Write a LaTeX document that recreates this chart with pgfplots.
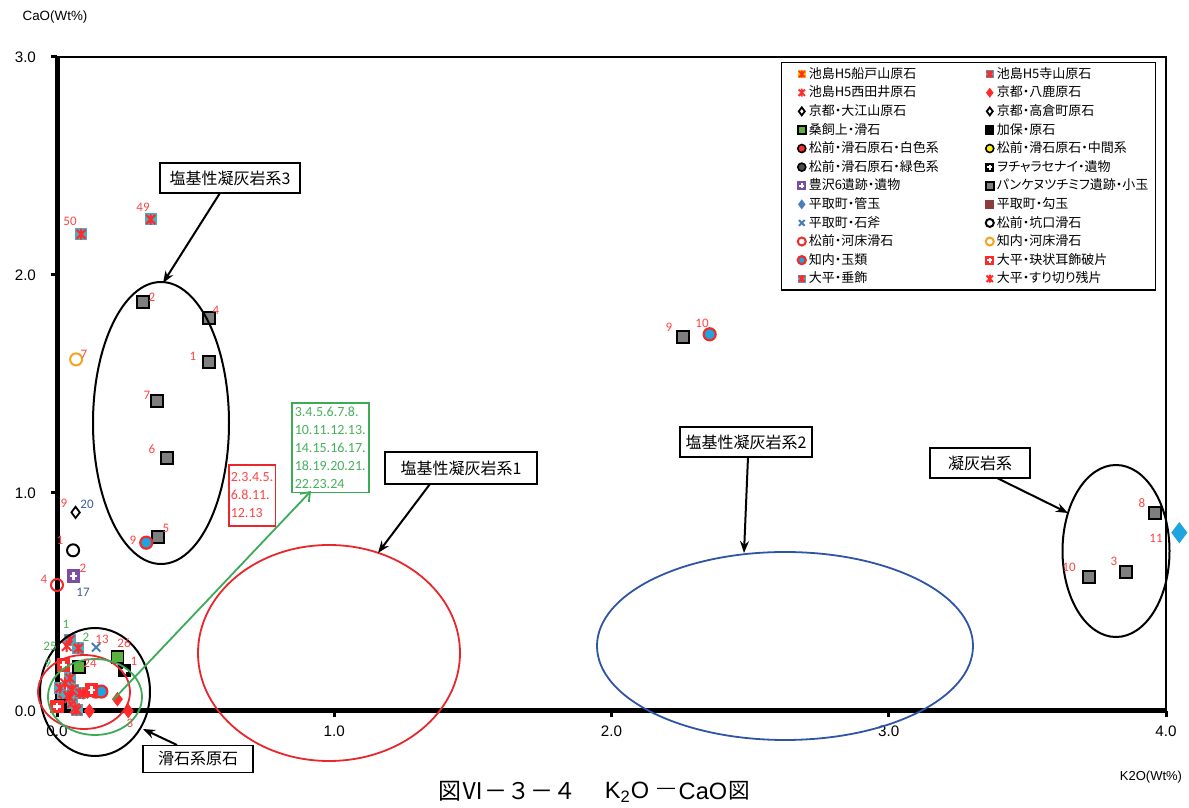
\documentclass[border=0pt]{standalone}
\usepackage{fontspec}
\setmainfont{Liberation Sans}
\newfontfamily\jp{Noto Sans CJK JP}
\newfontfamily\jpp[RawFeature=+palt]{Noto Sans CJK JP}
\newfontfamily\calfont{Carlito}
\usepackage{pgfplots}
\pgfplotsset{compat=1.18}
\usetikzlibrary{arrows.meta}

\definecolor{cyanSq}{HTML}{4BACC6}
\definecolor{redX}{HTML}{FF2A2A}
\definecolor{cyanPt}{HTML}{1EA5E0}
\definecolor{greySq}{HTML}{7F7F7F}
\definecolor{greenSq}{HTML}{5CB040}
\definecolor{purpleSq}{HTML}{7A4FA3}
\definecolor{brownSq}{HTML}{8C3B3B}
\definecolor{blueX}{HTML}{4A7EBB}
\definecolor{orangeO}{HTML}{F6A31F}
\definecolor{redO}{HTML}{EE2C2C}
\definecolor{yellowSq}{HTML}{FFC000}
\definecolor{labRed}{HTML}{FF4545}
\definecolor{labGreen}{HTML}{45B05A}
\definecolor{labBlue}{HTML}{3B5E9E}
\definecolor{ellRed}{HTML}{E8262B}
\definecolor{ellBlue}{HTML}{2F54A6}
\definecolor{ellGreen}{HTML}{3DAA58}

% filled square with an asterisk (x + vertical bar) on top
\pgfdeclareplotmark{sqast}{%
  \pgfpathrectangle{\pgfpoint{-\pgfplotmarksize}{-\pgfplotmarksize}}{\pgfpoint{2\pgfplotmarksize}{2\pgfplotmarksize}}%
  \pgfusepathqfill
  \pgfpathmoveto{\pgfpoint{-.75\pgfplotmarksize}{-.75\pgfplotmarksize}}\pgfpathlineto{\pgfpoint{.75\pgfplotmarksize}{.75\pgfplotmarksize}}%
  \pgfpathmoveto{\pgfpoint{-.75\pgfplotmarksize}{.75\pgfplotmarksize}}\pgfpathlineto{\pgfpoint{.75\pgfplotmarksize}{-.75\pgfplotmarksize}}%
  \pgfpathmoveto{\pgfpoint{0pt}{-.9\pgfplotmarksize}}\pgfpathlineto{\pgfpoint{0pt}{.9\pgfplotmarksize}}%
  \pgfusepathqstroke}
% asterisk only
\pgfdeclareplotmark{xast}{%
  \pgfpathmoveto{\pgfpoint{-.8\pgfplotmarksize}{-.8\pgfplotmarksize}}\pgfpathlineto{\pgfpoint{.8\pgfplotmarksize}{.8\pgfplotmarksize}}%
  \pgfpathmoveto{\pgfpoint{-.8\pgfplotmarksize}{.8\pgfplotmarksize}}\pgfpathlineto{\pgfpoint{.8\pgfplotmarksize}{-.8\pgfplotmarksize}}%
  \pgfpathmoveto{\pgfpoint{0pt}{-\pgfplotmarksize}}\pgfpathlineto{\pgfpoint{0pt}{\pgfplotmarksize}}%
  \pgfusepathqstroke}
% filled square with a white plus
\pgfdeclareplotmark{sqplus}{%
  \pgfpathrectangle{\pgfpoint{-\pgfplotmarksize}{-\pgfplotmarksize}}{\pgfpoint{2\pgfplotmarksize}{2\pgfplotmarksize}}%
  \pgfusepathqfillstroke
  \begin{pgfscope}
  \pgfsetstrokecolor{white}\pgfsetlinewidth{0.45\pgfplotmarksize}%
  \pgfpathmoveto{\pgfpoint{-.6\pgfplotmarksize}{0pt}}\pgfpathlineto{\pgfpoint{.6\pgfplotmarksize}{0pt}}%
  \pgfpathmoveto{\pgfpoint{0pt}{-.6\pgfplotmarksize}}\pgfpathlineto{\pgfpoint{0pt}{.6\pgfplotmarksize}}%
  \pgfusepathqstroke
  \end{pgfscope}}

\begin{document}
\begin{tikzpicture}
\path[use as bounding box] (-28.5pt,-48.5pt) rectangle (566pt,355.5pt);
\begin{axis}[
  at={(0,0)}, anchor=south west,
  scale only axis, width=554.5pt, height=327pt,
  xmin=0, xmax=4, ymin=0, ymax=3,
  xtick={0,1,2,3,4}, ytick={0,1,2,3},
  xtick pos=bottom, ytick pos=left,
  tick align=outside, major tick length=3pt,
  tick style={black, line width=1.5pt},
  axis line style={black, line width=1pt},
  /pgf/number format/.cd, fixed, fixed zerofill, precision=1, assume math mode=true,
  /pgfplots/.cd,
  ticklabel style={font=\fontsize{7.6}{9}\selectfont},
  yticklabel style={xshift=-4pt},
  xticklabel style={yshift=-1pt},
  clip=false,
  legend columns=2,
  legend cell align=left,
  legend image code/.code={\draw[#1] plot coordinates {(0.08cm,0cm)};},
  legend image post style={mark size=2pt},
  legend style={at={(rel axis cs:0.653,0.992)}, anchor=north west,
    draw=black, line width=0.6pt, fill=white,
    font=\jpp\fontsize{6.5}{7.5}\selectfont,
    inner xsep=8pt, inner ysep=1pt, row sep=0pt,
    nodes={text width=70pt, inner xsep=1.5pt, inner ysep=0.6pt, text height=6.1pt, text depth=2pt},
    /tikz/every even column/.append style={column sep=17pt}},
]
% thick left and bottom axis lines
\draw[line width=2.5pt] (rel axis cs:0,1) -- (rel axis cs:0,0) -- (rel axis cs:1,0);

\addlegendimage{only marks, mark=sqast, mark options={fill=yellowSq, draw=redX, line width=0.8pt}}
\addlegendentry{池島H5船戸山原石}
\addplot[only marks, mark=sqast, mark size=3pt, mark options={fill=cyanSq, draw=redX, line width=1pt}] coordinates {
  (0.047,0.326) (0.077,0.288) (0.047,0.150) (0.011,0.105) (0.059,0.096)
  (0.083,0.081) (0.023,0.050) (0.053,0.035) (0.071,0.003) (0.040,0.070)
};
\addlegendentry{池島H5寺山原石}
\addlegendimage{only marks, mark=xast, mark options={draw=redX, line width=0.9pt}}
\addlegendentry{池島H5西田井原石}
\addplot[only marks, mark=diamond*, mark size=3.3pt, mark options={fill=redX, draw=redX}] coordinates {
  (0.218,0.054) (0.117,0.0) (0.257,0.0)
};
\addlegendentry{京都・八鹿原石}
\addlegendimage{only marks, mark=diamond, mark options={draw=black, line width=0.9pt}}
\addlegendentry{京都・大江山原石}
\addplot[only marks, mark=diamond, mark size=2.8pt, mark options={draw=black, line width=0.9pt}] coordinates {
  (0.067,0.911)
};
\addlegendentry{京都・高倉町原石}
\addplot[only marks, mark=square*, mark size=3pt, mark options={fill=greenSq, draw=black, line width=0.9pt}] coordinates {
  (0.218,0.249) (0.079,0.200)
};
\addlegendentry{桑飼上・滑石}
\addplot[only marks, mark=square*, mark size=3pt, mark options={fill=black, draw=black}] coordinates {
  (0.012,0.025)
};
\addlegendentry{加保・原石}
\addlegendimage{only marks, mark=*, mark options={fill=redX, draw=black, line width=0.8pt}}
\addlegendentry{松前・滑石原石・白色系}
\addlegendimage{only marks, mark=*, mark options={fill=yellow, draw=black, line width=0.8pt}}
\addlegendentry{松前・滑石原石・中間系}
\addlegendimage{only marks, mark=*, mark options={fill=black!70, draw=black, line width=0.8pt}}
\addlegendentry{松前・滑石原石・緑色系}
\addplot[only marks, mark=sqplus, mark size=3pt, mark options={fill=black, draw=black, line width=0.6pt}] coordinates {
  (0.243,0.187)
};
\addlegendentry{ヲチャラセナイ・遺物}
\addplot[only marks, mark=sqplus, mark size=3pt, mark options={fill=purpleSq, draw=purpleSq, line width=0.6pt}] coordinates {
  (0.059,0.619)
};
\addlegendentry{豊沢6遺跡・遺物}
\addplot[only marks, mark=square*, mark size=3pt, mark options={fill=greySq, draw=black, line width=1pt}] coordinates {
  (0.311,1.875) (0.548,1.801) (0.548,1.600) (0.361,1.422) (0.397,1.162)
  (0.365,0.798) (2.258,1.717) (3.959,0.910) (3.857,0.639) (3.722,0.616)
};
\addlegendentry{パンケヌツチミフ遺跡・小玉}
\addlegendimage{only marks, mark=diamond*, mark options={fill=blueX, draw=blueX}}
\addlegendentry{平取町・管玉}
\addplot[only marks, forget plot, mark=diamond*, mark size=5pt, mark options={fill=cyanPt, draw=cyanPt}] coordinates {
  (4.048,0.818)
};
\addlegendimage{only marks, mark=square*, mark options={fill=brownSq, draw=brownSq}}
\addlegendentry{平取町・勾玉}
\addplot[only marks, mark=x, mark size=3pt, mark options={draw=blueX, line width=1pt}] coordinates {
  (0.141,0.292)
};
\addlegendentry{平取町・石斧}
\addplot[only marks, mark=o, mark size=3pt, mark options={draw=black, line width=1pt}] coordinates {
  (0.058,0.737)
};
\addlegendentry{松前・坑口滑石}
\addplot[only marks, mark=o, mark size=3pt, mark options={draw=redO, line width=1pt}] coordinates {
  (0.0,0.578)
};
\addlegendentry{松前・河床滑石}
\addplot[only marks, mark=o, mark size=3pt, mark options={draw=orangeO, line width=1pt}] coordinates {
  (0.069,1.613)
};
\addlegendentry{知内・河床滑石}
\addplot[only marks, mark=*, mark size=3pt, mark options={fill=cyanPt, draw=redO, line width=1.1pt}] coordinates {
  (0.322,0.772) (2.354,1.728) (0.140,0.089) (0.160,0.089)
};
\addlegendentry{知内・玉類}
\addplot[only marks, mark=sqplus, mark size=3pt, mark options={fill=redX, draw=redX, line width=0.6pt}] coordinates {
  (0.023,0.211) (0.125,0.096) (0.0,0.02)
};
\addlegendentry{大平・玦状耳飾破片}
\addplot[only marks, mark=sqast, mark size=3pt, mark options={fill=cyanSq, draw=redX, line width=1pt}] coordinates {
  (0.087,2.187) (0.338,2.255)
};
\addlegendentry{大平・垂飾}
\addplot[only marks, mark=xast, mark size=3pt, mark options={draw=redX, line width=1pt}] coordinates {
  (0.035,0.298) (0.029,0.127) (0.053,0.096) (0.095,0.081) (0.065,0.012) (0.045,0.060)
};
\addlegendentry{大平・すり切り残片}
\end{axis}

\begin{scope}[x=0.5pt, y=-0.5pt, shift={(-28.5pt,355.5pt)}, >={Stealth[length=6pt,width=4.5pt]}]
% axis titles and figure title
\node[font=\fontsize{6.7}{8}\selectfont] at (55,17) {CaO(Wt\%)};
\node[font=\fontsize{6.5}{8}\selectfont] at (1151,777) {K2O(Wt\%)};
\node[font=\jp\fontsize{11.5}{12}\selectfont] at (507,791) {図Ⅵ－３－４};
\node[font=\fontsize{11.8}{13}\selectfont] at (627,792) {K\textsubscript{2}O};
\node[font=\fontsize{9}{10}\selectfont] at (666,791) {—};
\node[font=\fontsize{11.8}{13}\selectfont] at (703,791) {CaO};
\node[font=\jp\fontsize{10.8}{12}\selectfont] at (739,791) {図};

% groups
\draw[line width=1pt] (161,423) ellipse [x radius=68, y radius=141];
\draw[line width=1pt] (95,692) ellipse [x radius=55, y radius=64];
\draw[line width=0.9pt, ellRed] (84,692) ellipse [x radius=46, y radius=37];
\draw[line width=0.9pt, ellGreen] (95,697) ellipse [x radius=47, y radius=38];
\draw[line width=0.9pt, ellRed] (329,653) ellipse [x radius=131, y radius=108];
\draw[line width=0.9pt, ellBlue] (785,646) ellipse [x radius=188, y radius=94];
\draw[line width=1pt] (1116,551) ellipse [x radius=53.5, y radius=86];

% callout boxes
\tikzset{callout/.style={draw, line width=0.7pt, fill=white, inner sep=0pt, font=\jp\fontsize{8}{10}\selectfont}}
\node[callout, minimum width=70pt, minimum height=15pt] at (230,178) {塩基性凝灰岩系3};
\draw[->, line width=1pt] (220,193) -- (163,283);
\node[callout, minimum width=76pt, minimum height=16pt] at (461,468) {塩基性凝灰岩系1};
\draw[->, line width=1pt] (430,484) -- (378,553);
\node[callout, minimum width=66pt, minimum height=15pt] at (746,442) {塩基性凝灰岩系2};
\draw[->, line width=1pt] (748,457) -- (744,553);
\node[callout, minimum width=50pt, minimum height=15pt] at (980,463) {凝灰岩系};
\draw[->, line width=1pt] (997,478) -- (1068,513);
\node[callout, minimum width=55pt, minimum height=13.5pt] at (198,759) {滑石系原石};
\draw[->, line width=1pt] (177,745) -- (143,729);

\node[draw=ellRed, line width=0.8pt, text=labRed, anchor=north west, align=left, inner xsep=1pt, inner ysep=1.5pt,
  minimum width=20pt, minimum height=30.5pt, font=\calfont\fontsize{7}{9}\selectfont] at (228,464) {2.3.4.5.\\6.8.11.\\12.13};
\node[draw=ellGreen, line width=0.8pt, text=labGreen, anchor=north west, align=left, inner xsep=1.5pt, inner ysep=2pt,
  minimum width=35pt, minimum height=44.5pt, font=\calfont\fontsize{7}{9}\selectfont] at (291,402) {3.4.5.6.7.8.\\10.11.12.13.\\14.15.16.17.\\18.19.20.21.\\22.23.24};
\draw[->, ellGreen, line width=0.9pt, >={Straight Barb[length=4pt,width=6pt]}] (113,700) -- (311,491);

% point labels
\tikzset{lab/.style={font=\calfont\fontsize{6.5}{7}\selectfont, inner sep=0pt}}
\node[lab, text=labRed] at (70,221) {50};
\node[lab, text=labRed] at (143,207) {49};
\node[lab, text=labRed] at (152,297) {2};
\node[lab, text=labRed] at (216,310) {4};
\node[lab, text=labRed] at (193,356) {1};
\node[lab, text=labRed] at (147,395) {7};
\node[lab, text=labRed] at (152,449) {6};
\node[lab, text=labRed] at (166,528) {5};
\node[lab, text=labRed] at (133,540) {9};
\node[lab, text=labRed] at (84,354) {7};
\node[lab, text=labRed] at (669,327) {9};
\node[lab, text=labRed] at (702,323) {10};
\node[lab, text=labRed] at (1142,503) {8};
\node[lab, text=labRed] at (1156,538) {11};
\node[lab, text=labRed] at (1114,561) {3};
\node[lab, text=labRed] at (1069,567) {10};
\node[lab, text=labRed] at (64,503) {9};
\node[lab, text=labBlue] at (87,504) {20};
\node[lab, text=labRed] at (60,540) {1};
\node[lab, text=labRed] at (83,568) {2};
\node[lab, text=labBlue] at (83,592) {17};
\node[lab, text=labRed] at (44,579) {4};
\node[lab, text=labGreen] at (66,624) {1};
\node[lab, text=labGreen] at (50,646) {25};
\node[lab, text=labGreen] at (86,637) {2};
\node[lab, text=labRed] at (102,639) {13};
\node[lab, text=labRed] at (124,643) {26};
\node[lab, text=labRed] at (134,661) {1};
\node[lab, text=labGreen] at (48,663) {9};
\node[lab, text=labRed] at (90,663) {24};
\node[lab, text=labRed] at (130,723) {3};
\end{scope}
\end{tikzpicture}
\end{document}
